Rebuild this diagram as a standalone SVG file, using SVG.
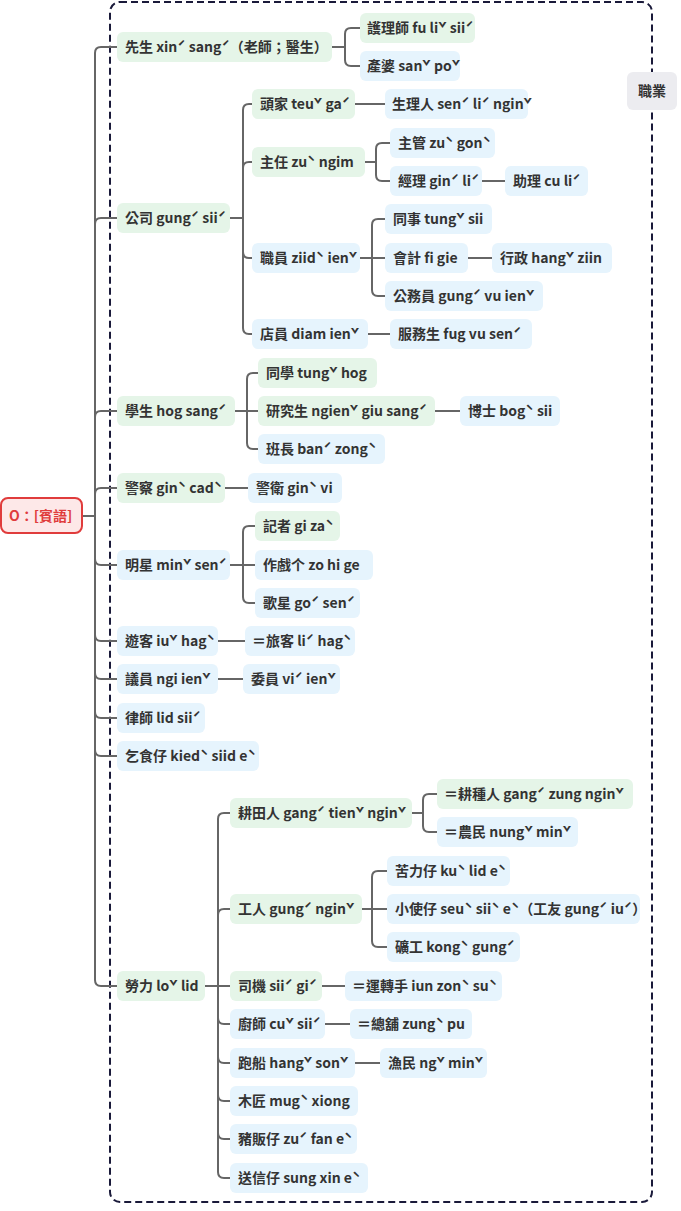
<svg xmlns="http://www.w3.org/2000/svg" width="681" height="1211" viewBox="0 0 681 1211">
<style>
text{font-family:"Noto Sans CJK TC","Noto Sans",sans-serif;font-size:14px;font-weight:bold;fill:#333}
.g{fill:#e5f5e8}.b{fill:#e6f4fd}
.c path{fill:none;stroke:#666;stroke-width:2}
</style>
<rect width="681" height="1211" fill="#fff"/>
<g id="boundary"><rect x="110" y="2" width="542" height="1200" rx="10" fill="none" stroke="#1a1a3a" stroke-width="2" stroke-dasharray="7,4"/></g>
<g id="label-zhiye"><rect x="627" y="72" width="50" height="38" rx="6" fill="#ececf0"/><text x="638" y="96">職業</text></g>
<g class="c" id="connectors">
<path d="M82,516H95V53Q95,47 101,47H117"/>
<path d="M82,516H95V224Q95,218 101,218H117"/>
<path d="M82,516H95V417Q95,411 101,411H117"/>
<path d="M82,516H95V494Q95,488 101,488H117"/>
<path d="M82,516H95V559Q95,565 101,565H117"/>
<path d="M82,516H95V635Q95,641 101,641H117"/>
<path d="M82,516H95V673Q95,679 101,679H117"/>
<path d="M82,516H95V712Q95,718 101,718H117"/>
<path d="M82,516H95V750Q95,756 101,756H117"/>
<path d="M82,516H95V980Q95,986 101,986H117"/>
<path d="M332,47H345V34Q345,28 351,28H360"/>
<path d="M332,47H345V60Q345,66 351,66H360"/>
<path d="M230,218H243V110Q243,104 249,104H252"/>
<path d="M230,218H243V168Q243,162 249,162H252"/>
<path d="M230,218H243V252Q243,258 249,258H252"/>
<path d="M230,218H243V328Q243,334 249,334H252"/>
<path d="M355,104H385"/>
<path d="M365,162H376V149Q376,143 382,143H390"/>
<path d="M365,162H376V175Q376,181 382,181H390"/>
<path d="M482,181H505"/>
<path d="M360,258H372V225Q372,219 378,219H385"/>
<path d="M360,258H385"/>
<path d="M360,258H372V290Q372,296 378,296H385"/>
<path d="M468,258H492"/>
<path d="M368,334H390"/>
<path d="M235,411H247V379Q247,373 253,373H258"/>
<path d="M235,411H258"/>
<path d="M235,411H247V443Q247,449 253,449H258"/>
<path d="M435,411H460"/>
<path d="M225,488H248"/>
<path d="M230,565H243V532Q243,526 249,526H255"/>
<path d="M230,565H255"/>
<path d="M230,565H243V597Q243,603 249,603H255"/>
<path d="M218,641H245"/>
<path d="M218,679H243"/>
<path d="M205,986H218V819Q218,813 224,813H230"/>
<path d="M205,986H218V915Q218,909 224,909H230"/>
<path d="M205,986H230"/>
<path d="M205,986H218V1018Q218,1024 224,1024H230"/>
<path d="M205,986H218V1057Q218,1063 224,1063H230"/>
<path d="M205,986H218V1095Q218,1101 224,1101H230"/>
<path d="M205,986H218V1133Q218,1139 224,1139H230"/>
<path d="M205,986H218V1172Q218,1178 224,1178H230"/>
<path d="M412,813H423V800Q423,794 429,794H437"/>
<path d="M412,813H423V826Q423,832 429,832H437"/>
<path d="M362,909H372V877Q372,871 378,871H387"/>
<path d="M362,909H387"/>
<path d="M362,909H372V941Q372,947 378,947H387"/>
<path d="M322,986H345"/>
<path d="M325,1024H350"/>
<path d="M355,1063H380"/>
</g>
<g id="root"><rect x="1" y="498" width="81" height="35" rx="7" fill="#fde8e8" stroke="#e03c3c" stroke-width="2"/><text x="9" y="521" style="fill:#e03c3c">O：[賓語]</text></g>
<g id="n1"><rect class="g" x="117" y="32" width="215" height="30" rx="6"/><text x="125" y="52">先生 xinˊ sangˊ（老師；醫生）</text></g>
<g id="n1a"><rect class="g" x="360" y="13" width="115" height="30" rx="6"/><text x="367" y="33">護理師 fu liˇ siiˊ</text></g>
<g id="n1b"><rect class="b" x="360" y="51" width="100" height="30" rx="6"/><text x="367" y="71">產婆 sanˇ poˇ</text></g>
<g id="n2"><rect class="g" x="117" y="203" width="113" height="30" rx="6"/><text x="125" y="223">公司 gungˊ siiˊ</text></g>
<g id="n2a"><rect class="g" x="252" y="89" width="103" height="30" rx="6"/><text x="260" y="109">頭家 teuˇ gaˊ</text></g>
<g id="n2a1"><rect class="b" x="385" y="89" width="143" height="30" rx="6"/><text x="392" y="109">生理人 senˊ liˊ nginˇ</text></g>
<g id="n2b"><rect class="g" x="252" y="147" width="113" height="30" rx="6"/><text x="260" y="167">主任 zuˋ ngim</text></g>
<g id="n2b1"><rect class="b" x="390" y="128" width="105" height="30" rx="6"/><text x="398" y="148">主管 zuˋ gonˋ</text></g>
<g id="n2b2"><rect class="b" x="390" y="166" width="92" height="30" rx="6"/><text x="398" y="186">經理 ginˊ liˊ</text></g>
<g id="n2b2a"><rect class="b" x="505" y="166" width="83" height="30" rx="6"/><text x="513" y="186">助理 cu liˊ</text></g>
<g id="n2c"><rect class="b" x="252" y="243" width="108" height="30" rx="6"/><text x="260" y="263">職員 ziidˋ ienˇ</text></g>
<g id="n2c1"><rect class="b" x="385" y="204" width="107" height="30" rx="6"/><text x="393" y="224">同事 tungˇ sii</text></g>
<g id="n2c2"><rect class="b" x="385" y="243" width="83" height="30" rx="6"/><text x="393" y="263">會計 fi gie</text></g>
<g id="n2c2a"><rect class="b" x="492" y="243" width="120" height="30" rx="6"/><text x="500" y="263">行政 hangˇ ziin</text></g>
<g id="n2c3"><rect class="b" x="385" y="281" width="158" height="30" rx="6"/><text x="393" y="301">公務員 gungˊ vu ienˇ</text></g>
<g id="n2d"><rect class="b" x="252" y="319" width="116" height="30" rx="6"/><text x="260" y="339">店員 diam ienˇ</text></g>
<g id="n2d1"><rect class="b" x="390" y="319" width="142" height="30" rx="6"/><text x="398" y="339">服務生 fug vu senˊ</text></g>
<g id="n3"><rect class="g" x="117" y="396" width="118" height="30" rx="6"/><text x="125" y="416">學生 hog sangˊ</text></g>
<g id="n3a"><rect class="g" x="258" y="358" width="119" height="30" rx="6"/><text x="266" y="378">同學 tungˇ hog</text></g>
<g id="n3b"><rect class="g" x="258" y="396" width="177" height="30" rx="6"/><text x="266" y="416">研究生 ngienˇ giu sangˊ</text></g>
<g id="n3b1"><rect class="b" x="460" y="396" width="100" height="30" rx="6"/><text x="468" y="416">博士 bogˋ sii</text></g>
<g id="n3c"><rect class="b" x="258" y="434" width="127" height="30" rx="6"/><text x="266" y="454">班長 banˊ zongˋ</text></g>
<g id="n4"><rect class="g" x="117" y="473" width="108" height="30" rx="6"/><text x="125" y="493">警察 ginˋ cadˋ</text></g>
<g id="n4a"><rect class="b" x="248" y="473" width="94" height="30" rx="6"/><text x="256" y="493">警衛 ginˋ vi</text></g>
<g id="n5"><rect class="b" x="117" y="550" width="113" height="30" rx="6"/><text x="125" y="570">明星 minˇ senˊ</text></g>
<g id="n5a"><rect class="g" x="255" y="511" width="85" height="30" rx="6"/><text x="263" y="531">記者 gi zaˋ</text></g>
<g id="n5b"><rect class="b" x="255" y="550" width="118" height="30" rx="6"/><text x="263" y="570">作戲个 zo hi ge</text></g>
<g id="n5c"><rect class="b" x="255" y="588" width="105" height="30" rx="6"/><text x="263" y="608">歌星 goˊ senˊ</text></g>
<g id="n6"><rect class="b" x="117" y="626" width="101" height="30" rx="6"/><text x="125" y="646">遊客 iuˇ hagˋ</text></g>
<g id="n6a"><rect class="b" x="245" y="626" width="110" height="30" rx="6"/><text x="252" y="646">＝旅客 liˊ hagˋ</text></g>
<g id="n7"><rect class="b" x="117" y="664" width="101" height="30" rx="6"/><text x="125" y="684">議員 ngi ienˇ</text></g>
<g id="n7a"><rect class="b" x="243" y="664" width="97" height="30" rx="6"/><text x="251" y="684">委員 viˊ ienˇ</text></g>
<g id="n8"><rect class="b" x="117" y="703" width="88" height="30" rx="6"/><text x="125" y="723">律師 lid siiˊ</text></g>
<g id="n9"><rect class="b" x="117" y="741" width="142" height="30" rx="6"/><text x="125" y="761">乞食仔 kiedˋ siid eˋ</text></g>
<g id="n10"><rect class="g" x="117" y="971" width="88" height="30" rx="6"/><text x="125" y="991">勞力 loˇ lid</text></g>
<g id="n10a"><rect class="g" x="230" y="798" width="182" height="30" rx="6"/><text x="238" y="818">耕田人 gangˊ tienˇ nginˇ</text></g>
<g id="n10a1"><rect class="g" x="437" y="779" width="196" height="30" rx="6"/><text x="444" y="799">＝耕種人 gangˊ zung nginˇ</text></g>
<g id="n10a2"><rect class="b" x="437" y="817" width="141" height="30" rx="6"/><text x="444" y="837">＝農民 nungˇ minˇ</text></g>
<g id="n10b"><rect class="g" x="230" y="894" width="132" height="30" rx="6"/><text x="238" y="914">工人 gungˊ nginˇ</text></g>
<g id="n10b1"><rect class="b" x="387" y="856" width="123" height="30" rx="6"/><text x="395" y="876">苦力仔 kuˋ lid eˋ</text></g>
<g id="n10b2"><rect class="b" x="387" y="894" width="253" height="30" rx="6"/><text x="395" y="914">小使仔 seuˋ siiˋ eˋ（工友 gungˊ iuˊ）</text></g>
<g id="n10b3"><rect class="b" x="387" y="932" width="133" height="30" rx="6"/><text x="395" y="952">礦工 kongˋ gungˊ</text></g>
<g id="n10c"><rect class="g" x="230" y="971" width="92" height="30" rx="6"/><text x="238" y="991">司機 siiˊ giˊ</text></g>
<g id="n10c1"><rect class="b" x="345" y="971" width="157" height="30" rx="6"/><text x="352" y="991">＝運轉手 iun zonˋ suˋ</text></g>
<g id="n10d"><rect class="b" x="230" y="1009" width="95" height="30" rx="6"/><text x="238" y="1029">廚師 cuˇ siiˊ</text></g>
<g id="n10d1"><rect class="b" x="350" y="1009" width="122" height="30" rx="6"/><text x="357" y="1029">＝總舖 zungˋ pu</text></g>
<g id="n10e"><rect class="b" x="230" y="1048" width="125" height="30" rx="6"/><text x="238" y="1068">跑船 hangˇ sonˇ</text></g>
<g id="n10e1"><rect class="b" x="380" y="1048" width="107" height="30" rx="6"/><text x="388" y="1068">漁民 ngˇ minˇ</text></g>
<g id="n10f"><rect class="b" x="230" y="1086" width="128" height="30" rx="6"/><text x="238" y="1106">木匠 mugˋ xiong</text></g>
<g id="n10g"><rect class="b" x="230" y="1124" width="127" height="30" rx="6"/><text x="238" y="1144">豬販仔 zuˊ fan eˋ</text></g>
<g id="n10h"><rect class="b" x="230" y="1163" width="138" height="30" rx="6"/><text x="238" y="1183">送信仔 sung xin eˋ</text></g>
</svg>
